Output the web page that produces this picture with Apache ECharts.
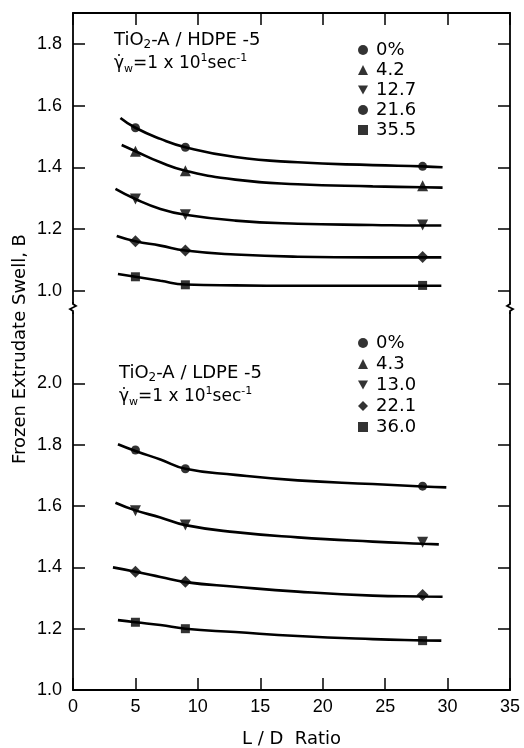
<!DOCTYPE html>
<html><head><meta charset="utf-8">
<script src="https://cdn.jsdelivr.net/npm/echarts@6/dist/echarts.min.js"></script>
<style>html,body{margin:0;padding:0;background:#fff}#c{width:524px;height:748px}</style>
</head><body><div id="c"></div>
<script>
// ---- data ----
const ldRatio = [5, 9, 28];
const xTickLabels = [0, 5, 10, 15, 20, 25, 30, 35];
const yTicksTop = [1.0, 1.2, 1.4, 1.6, 1.8];
const yTicksBottom = [1.0, 1.2, 1.4, 1.6, 1.8, 2.0];

const hdpeNames = ['0%', '4.2', '12.7', '21.6', '35.5'];
const ldpeNames = ['0%', '4.3', '13.0', '22.1', '36.0'];

// HDPE measured points (at ldRatio)
const hdpe0   = [1.528, 1.465, 1.403];
const hdpe42  = [1.452, 1.389, 1.340];
const hdpe127 = [1.297, 1.246, 1.213];
const hdpe216 = [1.160, 1.130, 1.109];
const hdpe355 = [1.045, 1.019, 1.017];

// LDPE measured points (4.3% has no points drawn)
const ldpe0   = [1.783, 1.722, 1.665];
const ldpe43  = [];
const ldpe130 = [1.585, 1.538, 1.482];
const ldpe221 = [1.386, 1.353, 1.310];
const ldpe360 = [1.221, 1.200, 1.161];

// drawn curves [L/D, B]
const hCurve0   = [[3.8,1.560],[5,1.528],[7,1.492],[9,1.465],[13,1.433],[18,1.416],[24,1.407],[28,1.403],[29.6,1.400]];
const hCurve42  = [[3.9,1.472],[5,1.452],[7,1.416],[9,1.389],[13,1.360],[18,1.345],[24,1.338],[28,1.335],[29.6,1.334]];
const hCurve127 = [[3.4,1.330],[5,1.297],[7,1.265],[9,1.246],[13,1.227],[18,1.217],[24,1.213],[28,1.211],[29.5,1.211]];
const hCurve216 = [[3.5,1.177],[5,1.160],[7,1.146],[9,1.130],[13,1.117],[18,1.110],[24,1.108],[28,1.108],[29.5,1.108]];
const hCurve355 = [[3.6,1.054],[5,1.045],[7,1.032],[9,1.020],[13,1.017],[18,1.016],[24,1.016],[28,1.016],[29.5,1.016]];

const lCurve0   = [[3.6,1.802],[5,1.780],[7,1.752],[9,1.722],[13,1.702],[18,1.684],[24,1.672],[28,1.664],[29.9,1.661]];
const lCurve130 = [[3.4,1.611],[5,1.586],[7,1.563],[9,1.538],[13,1.515],[18,1.498],[24,1.484],[28,1.477],[29.3,1.475]];
const lCurve221 = [[3.2,1.400],[5,1.386],[7,1.369],[9,1.352],[13,1.337],[18,1.321],[24,1.308],[28,1.305],[29.6,1.304]];
const lCurve360 = [[3.6,1.228],[5,1.221],[7,1.212],[9,1.200],[13,1.189],[18,1.176],[24,1.166],[28,1.162],[29.5,1.161]];

// ---- chart ----
const FONT = 'DejaVu Sans';
const TICKFONT = 'Liberation Sans';
const INK = '#000';
const DOWN_TRI = 'path://M0,0L10,0L5,9Z';

const hdpeSym = ['circle', 'triangle', DOWN_TRI, 'diamond', 'rect'];
const hdpeSize = [9, 11, 11, 12, 9];
const ldpeSym = ['circle', 'triangle', DOWN_TRI, 'diamond', 'rect'];
const ldpeSize = [9, 11, 11, 12, 9];

const hdpeVals = [hdpe0, hdpe42, hdpe127, hdpe216, hdpe355];
const ldpeVals = [ldpe0, ldpe43, ldpe130, ldpe221, ldpe360];
const hdpeCurves = [hCurve0, hCurve42, hCurve127, hCurve216, hCurve355];
const ldpeCurves = [lCurve0, lCurve130, lCurve221, lCurve360];

const zip = vals => vals.map((v, i) => [ldRatio[i], v]);

const series = [];
hdpeCurves.forEach((c, i) => series.push({
  type: 'line', name: 'hc' + i, xAxisIndex: 0, yAxisIndex: 0, data: c,
  smooth: 0.5, showSymbol: false, silent: true, z: 2,
  lineStyle: { color: INK, width: 2.6 }
}));
ldpeCurves.forEach((c, i) => series.push({
  type: 'line', name: 'lc' + i, xAxisIndex: 1, yAxisIndex: 2, data: c,
  smooth: 0.5, showSymbol: false, silent: true, z: 2,
  lineStyle: { color: INK, width: 2.6 }
}));
hdpeNames.forEach((n, i) => series.push({
  type: 'scatter', name: 'HDPE ' + n, xAxisIndex: 0, yAxisIndex: 0,
  data: zip(hdpeVals[i]), symbol: hdpeSym[i], symbolSize: hdpeSize[i],
  itemStyle: { color: INK }, z: 5
}));
ldpeNames.forEach((n, i) => series.push({
  type: 'scatter', name: 'LDPE ' + n, xAxisIndex: 1, yAxisIndex: 2,
  data: zip(ldpeVals[i]), symbol: ldpeSym[i], symbolSize: ldpeSize[i],
  itemStyle: { color: INK }, z: 5
}));

const axisLine = { show: true, lineStyle: { color: INK, width: 1.8 } };
const tickIn = (vals) => ({ show: true, inside: true, length: 12, lineStyle: { color: INK, width: 1.5 }, customValues: vals });

const legendCommon = {
  orient: 'vertical', itemWidth: 10, itemHeight: 10, padding: 0,
  selectedMode: false,
  formatter: name => name.split(' ')[1],
  textStyle: { fontFamily: FONT, fontSize: 18, color: INK, lineHeight: 17, padding: [0, 0, 0, 3] }
};

const rich1 = {
  a: { fontFamily: FONT, fontSize: 18, fill: INK, lineHeight: 22, verticalAlign: 'middle' },
  s: { fontFamily: FONT, fontSize: 12, fill: INK, lineHeight: 22, verticalAlign: 'bottom' }
};
const rich2 = {
  a: { fontFamily: FONT, fontSize: 17, fill: INK, lineHeight: 22, verticalAlign: 'middle' },
  s: { fontFamily: FONT, fontSize: 11, fill: INK, lineHeight: 22, verticalAlign: 'bottom' },
  p: { fontFamily: FONT, fontSize: 11, fill: INK, lineHeight: 22, verticalAlign: 'top' }
};

const option = {
  backgroundColor: '#fff',
  animation: false,
  grid: [
    { left: 73, width: 437, top: 13, height: 290, outerBoundsMode: 'none', containLabel: false },
    { left: 73, width: 437, top: 313, height: 377, outerBoundsMode: 'none', containLabel: false }
  ],
  xAxis: [
    { gridIndex: 0, type: 'value', min: 0, max: 35, interval: 5, position: 'top',
      axisLine, axisTick: { show: true, inside: true, length: 12, lineStyle: { color: INK, width: 1.5 } },
      axisLabel: { show: false }, splitLine: { show: false } },
    { gridIndex: 1, type: 'value', min: 0, max: 35, interval: 5, position: 'bottom',
      axisLine, axisTick: { show: true, inside: true, length: 12, lineStyle: { color: INK, width: 1.5 } },
      axisLabel: { show: true, color: INK, fontFamily: TICKFONT, fontSize: 18, margin: 8,
        formatter: v => xTickLabels.includes(v) ? String(v) : '' },
      splitLine: { show: false },
      name: 'L / D  Ratio', nameLocation: 'middle', nameGap: 40,
      nameTextStyle: { fontFamily: FONT, fontSize: 18, color: INK } }
  ],
  yAxis: [
    { gridIndex: 0, type: 'value', min: 0.96, max: 1.9, position: 'left',
      axisLine, axisTick: tickIn(yTicksTop),
      axisLabel: { show: true, customValues: yTicksTop, color: INK, fontFamily: TICKFONT, fontSize: 18, margin: 11,
        formatter: v => v.toFixed(1) },
      splitLine: { show: false } },
    { gridIndex: 0, type: 'value', min: 0.96, max: 1.9, position: 'right',
      axisLine, axisTick: tickIn(yTicksTop), axisLabel: { show: false }, splitLine: { show: false } },
    { gridIndex: 1, type: 'value', min: 1.0, max: 2.23, position: 'left',
      axisLine, axisTick: tickIn(yTicksBottom),
      axisLabel: { show: true, customValues: yTicksBottom, color: INK, fontFamily: TICKFONT, fontSize: 18, margin: 11,
        formatter: v => v.toFixed(1) },
      splitLine: { show: false } },
    { gridIndex: 1, type: 'value', min: 1.0, max: 2.23, position: 'right',
      axisLine, axisTick: tickIn(yTicksBottom), axisLabel: { show: false }, splitLine: { show: false } }
  ],
  legend: [
    Object.assign({}, legendCommon, {
      left: 358, top: 41, itemGap: 2,
      data: hdpeNames.map((n, i) => ({ name: 'HDPE ' + n, icon: i === 3 ? 'circle' : hdpeSym[i] }))
    }),
    Object.assign({}, legendCommon, {
      left: 358, top: 334, itemGap: 3,
      data: ldpeNames.map((n, i) => ({ name: 'LDPE ' + n, icon: ldpeSym[i] }))
    })
  ],
  graphic: [
    { type: 'text', left: 114, top: 31, style: { text: '{a|TiO}{s|2}{a|-A / HDPE -5}', rich: rich1 } },
    { type: 'text', left: 114, top: 53, style: { text: '{a|γ̇}{s|w}{a|=1 x 10}{p|1}{a|sec}{p|-1}', rich: rich2 } },
    { type: 'text', left: 119, top: 364, style: { text: '{a|TiO}{s|2}{a|-A / LDPE -5}', rich: rich1 } },
    { type: 'text', left: 119, top: 386, style: { text: '{a|γ̇}{s|w}{a|=1 x 10}{p|1}{a|sec}{p|-1}', rich: rich2 } },
    { type: 'text', x: 20, y: 349, rotation: Math.PI / 2, style: {
        text: 'Frozen Extrudate Swell, B', fontFamily: FONT, fontSize: 18, fill: INK,
        align: 'center', verticalAlign: 'middle' } },
    { type: 'polyline', shape: { points: [[73, 302], [73, 304], [76, 306], [70, 309], [73, 311], [73, 314]] },
      style: { stroke: INK, lineWidth: 1.8, fill: null } },
    { type: 'polyline', shape: { points: [[510, 302], [510, 304], [507, 306], [513, 309], [510, 311], [510, 314]] },
      style: { stroke: INK, lineWidth: 1.8, fill: null } }
  ],
  series
};

const chart = echarts.init(document.getElementById('c'), null, { renderer: 'canvas' });
chart.setOption(option);
</script></body></html>
